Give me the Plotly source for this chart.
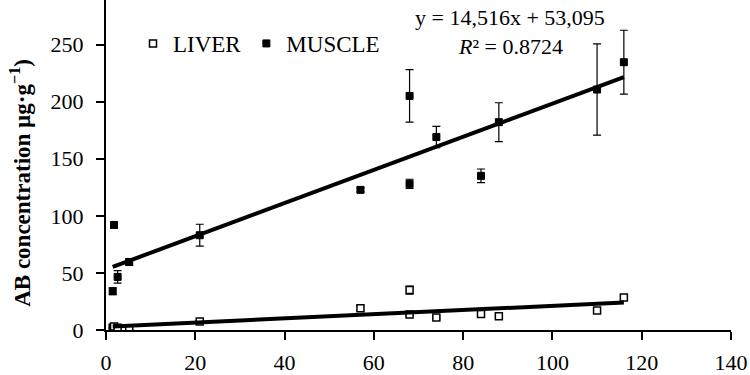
import numpy as np
import plotly.graph_objects as go

# ---- data ----
days = [1.5, 1.8, 2.6, 5.2, 21, 57, 68, 68, 74, 84, 88, 110, 116]
liver = [2, 3, 2, 0.5, 7.5, 19, 35, 13.5, 10.9, 14, 12, 17, 28.5]
liver_err = [0.5, 0.5, 0.5, 0.5, 1, 2, 3.5, 1, 1, 1.5, 1, 2, 2]
muscle = [34, 92, 46.5, 59.5, 83, 122.7, 205, 128, 169, 135, 182, 210.6, 234.5]
muscle_err = [3, 2.5, 5.5, 3, 9.6, 2, 23, 4, 9.4, 6, 17, 40, 28]

# regression shown on chart (muscle)
muscle_slope = 1.4516
muscle_intercept = 53.095
eq_text = "y = 14,516x + 53,095"
r2_text = "<i>R</i>² = 0.8724"

x_ticks = [0, 20, 40, 60, 80, 100, 120, 140]
y_ticks = [0, 50, 100, 150, 200, 250]

FONT = "Liberation Serif"

fig = go.Figure()

fig.add_trace(go.Scatter(
    x=days, y=liver, mode="markers", name="LIVER",
    marker=dict(symbol="square", size=7, color="white",
                line=dict(color="black", width=1.5)),
    error_y=dict(type="data", array=liver_err, color="black",
                 thickness=1.2, width=4),
))
fig.add_trace(go.Scatter(
    x=days, y=muscle, mode="markers", name="MUSCLE",
    marker=dict(symbol="square", size=7, color="black",
                line=dict(color="black", width=1)),
    error_y=dict(type="data", array=muscle_err, color="black",
                 thickness=1.2, width=4),
))

# trendlines
xmin, xmax = min(days), max(days)
lx = np.array([xmin, xmax])
lc = np.polyfit(days, liver, 1)
fig.add_trace(go.Scatter(x=lx, y=np.polyval(lc, lx), mode="lines",
                         line=dict(color="black", width=4),
                         showlegend=False, hoverinfo="skip"))
fig.add_trace(go.Scatter(x=lx, y=muscle_slope * lx + muscle_intercept,
                         mode="lines", line=dict(color="black", width=4),
                         showlegend=False, hoverinfo="skip"))

W, H = 750, 375
ml, mr, mt, mb = 106, 19, 0, 41
pw, ph = W - ml - mr, H - mt - mb

fig.update_layout(
    width=W, height=H,
    margin=dict(l=ml, r=mr, t=mt, b=mb),
    paper_bgcolor="white", plot_bgcolor="white",
    font=dict(family=FONT, color="black", size=22),
    showlegend=True,
    legend=dict(orientation="h", x=(133 - ml) / pw, y=(334 - 44) / ph,
                xanchor="left", yanchor="middle",
                font=dict(family=FONT, size=23, color="black"),
                bgcolor="rgba(0,0,0,0)", itemwidth=30),
)
fig.update_xaxes(
    range=[0, 140], tickvals=x_ticks, showgrid=False, zeroline=False,
    showline=True, linecolor="black", linewidth=2,
    ticks="outside", ticklen=8, tickwidth=2, tickcolor="black",
    tickfont=dict(family=FONT, size=22, color="black"),
    ticklabelstandoff=4,
)
fig.update_yaxes(
    range=[0, 289], tickvals=y_ticks, showgrid=False, zeroline=False,
    showline=True, linecolor="black", linewidth=2,
    ticks="outside", ticklen=8, tickwidth=2, tickcolor="black",
    tickfont=dict(family=FONT, size=22, color="black"),
    ticklabelstandoff=8,
)

fig.add_annotation(
    text="<b>AB concentration µg·g<sup>−1</sup>)</b>",
    xref="paper", yref="paper", x=(21 - ml) / pw, y=(334 - 185) / ph,
    xanchor="center", yanchor="middle", textangle=-90, showarrow=False,
    font=dict(family=FONT, size=23, color="black"),
)
fig.add_annotation(
    text=eq_text, xref="paper", yref="paper",
    x=(510 - ml) / pw, y=(334 - 18) / ph, xanchor="center", yanchor="middle",
    showarrow=False, font=dict(family=FONT, size=22, color="black"),
)
fig.add_annotation(
    text=r2_text, xref="paper", yref="paper",
    x=(510 - ml) / pw, y=(334 - 47) / ph, xanchor="center", yanchor="middle",
    showarrow=False, font=dict(family=FONT, size=22, color="black"),
)

fig.write_html(
    "out.html",
    config={"displayModeBar": False},
    post_script="document.body.style.margin='0';document.body.style.padding='0';",
)
